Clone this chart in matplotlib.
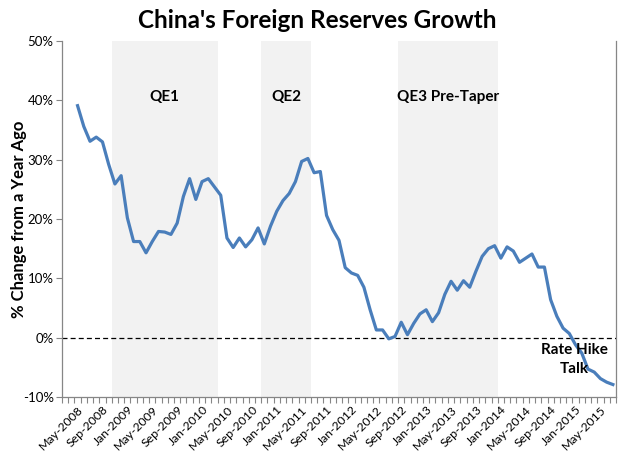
import numpy as np
import pandas as pd
import matplotlib
matplotlib.use("Agg")
import matplotlib.pyplot as plt

plt.rcParams['font.family'] = ['Lato', 'DejaVu Sans']

# month categories on the axis (first two are empty, data starts May-2008)
months = pd.date_range("2008-03-01", periods=89, freq="MS").strftime("%b-%Y").tolist()
first_month = "May-2008"

# year-over-year growth of China's foreign reserves, %
growth = [39.1, 35.6, 33.1, 33.8, 33.0, 29.2, 25.9, 27.3, 20.2, 16.2,
          16.2, 14.3, 16.2, 17.9, 17.8, 17.4, 19.3, 23.8, 26.8, 23.3,
          26.3, 26.8, 25.4, 24.0, 16.8, 15.2, 16.8, 15.3, 16.5, 18.5,
          15.8, 18.8, 21.3, 23.1, 24.3, 26.3, 29.7, 30.2, 27.8, 28.0,
          20.6, 18.2, 16.4, 11.8, 10.9, 10.5, 8.5, 4.7, 1.3, 1.3,
          -0.2, 0.2, 2.6, 0.5, 2.4, 4.0, 4.7, 2.7, 4.2, 7.3,
          9.5, 8.0, 9.6, 8.5, 11.2, 13.7, 15.0, 15.5, 13.4, 15.3,
          14.6, 12.7, 13.4, 14.1, 11.9, 11.9, 6.4, 3.6, 1.6, 0.7,
          -1.2, -2.6, -5.3, -5.8, -6.9, -7.5, -7.9]

# QE periods (first month, last month)
qe_names = ["QE1", "QE2", "QE3 Pre-Taper"]
qe_start = ["Nov-2008", "Nov-2010", "Sep-2012"]
qe_end = ["Mar-2010", "Jun-2011", "Dec-2013"]

fig = plt.figure(figsize=(6.35, 4.59), dpi=100)
ax = fig.add_axes([62/635, 1-397/459, (616-62)/635, (397-41)/459])

start = months.index(first_month)
x = np.arange(len(growth)) + start + 0.5

for name, s, e in zip(qe_names, qe_start, qe_end):
    i0 = months.index(s)
    i1 = months.index(e) + 1
    ax.axvspan(i0, i1, color="#F2F2F2", lw=0, zorder=0)
    ax.text((i0 + i1) / 2, 40.5, name, ha="center", va="center",
            fontsize=11, fontweight="bold", zorder=3)

ax.axhline(0, color="black", ls=(0, (4, 2.5)), lw=0.9, zorder=1)
ax.plot(x, growth, color="#4A7EBB", lw=2.3, zorder=2)

ax.text(87.7, -3.6, "Rate Hike\nTalk", ha="right", va="center", multialignment="center",
        fontsize=11, fontweight="bold", linespacing=1.45, zorder=3)

ax.set_xlim(0, len(months))
ax.set_ylim(-10, 50)

yt = np.arange(-10, 51, 10)
ax.set_yticks(yt)
ax.set_yticklabels([f"{v}%" for v in yt], fontsize=9.5)

lab_idx = list(range(start, len(months), 4))
ax.set_xticks(np.array(lab_idx) + 0.5)
ax.set_xticklabels([months[i] for i in lab_idx], rotation=45, ha="right",
                   va="top", rotation_mode="anchor", fontsize=8.8)
ax.set_xticks(np.arange(0, len(months) + 1), minor=True)
ax.tick_params(axis="x", which="major", length=0, pad=5)
ax.tick_params(axis="x", which="minor", length=4, color="#868686", width=0.8)
ax.tick_params(axis="y", length=4, color="#868686", width=0.8, pad=2)

for side in ["left", "bottom", "right"]:
    ax.spines[side].set_color("#868686")
    ax.spines[side].set_linewidth(0.9)
ax.spines["top"].set_visible(False)

ax.set_ylabel("% Change from a Year Ago", fontsize=12, fontweight="bold")
ax.yaxis.set_label_coords(-0.064, 0.5)
fig.suptitle("China's Foreign Reserves Growth", x=0.5, y=1-20/459, va="center",
             fontsize=17.5, fontweight="bold")

fig.savefig("out.png", dpi=100)
